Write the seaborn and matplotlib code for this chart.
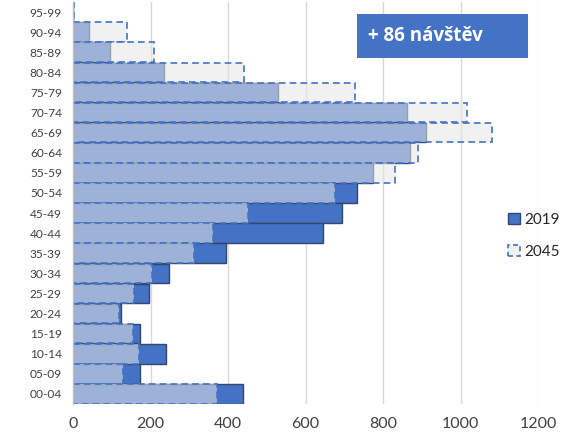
import matplotlib
matplotlib.use("Agg")
import matplotlib.pyplot as plt
import seaborn as sns
from matplotlib.patches import Patch, Rectangle

# Age groups and visit counts per group
age_groups = ["00-04", "05-09", "10-14", "15-19", "20-24", "25-29", "30-34",
              "35-39", "40-44", "45-49", "50-54", "55-59", "60-64", "65-69",
              "70-74", "75-79", "80-84", "85-89", "90-94", "95-99"]
visits_2019 = [438, 173, 239, 173, 125, 196, 248, 396, 645, 695, 733, 773,
               870, 910, 863, 530, 234, 95, 42, 0]
visits_2045 = [371, 128, 171, 154, 118, 158, 204, 312, 361, 451, 676, 831,
               891, 1080, 1018, 728, 441, 208, 139, 3]
x_ticks = [0, 200, 400, 600, 800, 1000, 1200]
note_text = "+ 86 návštěv"

BLUE = "#4472C4"
EDGE_2019 = "#34466A"
FILL_2045 = (230 / 255, 230 / 255, 230 / 255, 0.56)

sns.set_theme(style="white")
plt.rcParams["font.family"] = ["Lato", "DejaVu Sans"]

fig = plt.figure(figsize=(5.63, 4.37), dpi=100)
ax = fig.add_axes([73 / 563, 33 / 437, 465 / 563, 402 / 437])

order = age_groups[::-1]

sns.barplot(x=visits_2019, y=age_groups, order=order, orient="h",
            color=BLUE, saturation=1, edgecolor=EDGE_2019, linewidth=1.0,
            width=0.98, ax=ax, zorder=2)
n_first = len(ax.patches)

sns.barplot(x=visits_2045, y=age_groups, order=order, orient="h",
            color="#E6E6E6", saturation=1, edgecolor=BLUE, linewidth=1.2,
            width=0.98, ax=ax, zorder=3)
for p in ax.patches[n_first:]:
    p.set_facecolor(FILL_2045)
    p.set_edgecolor(BLUE)
    p.set_linestyle((0, (4, 2.5)))

ax.set_xlim(0, 1200)
ax.set_ylim(len(age_groups) - 0.5, -0.5)
ax.set_xticks(x_ticks)
ax.set_xlabel("")
ax.set_ylabel("")
ax.grid(axis="x", color="#D9D9D9", linewidth=1.0, zorder=0)
ax.grid(axis="y", visible=False)
ax.set_axisbelow(True)
for side in ["top", "right", "bottom"]:
    ax.spines[side].set_visible(False)
ax.spines["left"].set_color("#BFBFBF")
ax.spines["left"].set_linewidth(1.0)
ax.spines["left"].set_zorder(4)

ax.tick_params(axis="y", length=0, pad=8, labelsize=8.6, labelcolor="#404040")
ax.tick_params(axis="x", length=0, pad=9, labelsize=11.5, labelcolor="#404040")

# Legend
handles = [
    Patch(facecolor=BLUE, edgecolor=EDGE_2019, linewidth=1.0, label="2019"),
    Patch(facecolor="#F0F0F0", edgecolor=BLUE, linewidth=1.2,
          linestyle=(0, (3, 2)), label="2045"),
]
fig.legend(handles=handles, loc="upper left",
           bbox_to_anchor=(502 / 563, 1 - 207 / 437), frameon=False,
           fontsize=11, handlelength=0.75, handleheight=0.75,
           handletextpad=0.3, labelspacing=1.15, borderaxespad=0)

# Annotation box
fig.patches.append(Rectangle((357 / 563, 1 - 58 / 437), 171 / 563, 44 / 437,
                             transform=fig.transFigure, facecolor=BLUE,
                             edgecolor="none", zorder=5))
fig.text(368 / 563, 1 - 36 / 437, note_text, color="white", fontsize=13.5,
         fontweight="bold", family=["Open Sans", "DejaVu Sans"],
         va="center", ha="left", zorder=6)

fig.savefig("out.png", dpi=100)
